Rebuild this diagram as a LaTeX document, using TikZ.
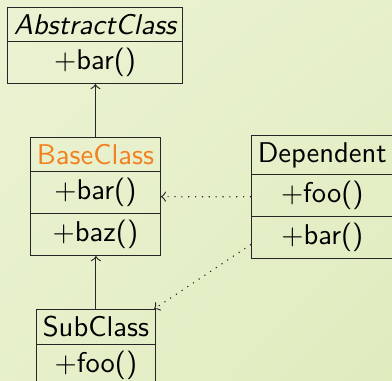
\documentclass[tikz,border=0pt]{standalone}
\usetikzlibrary{shapes.multipart,shadings}

\definecolor{classorange}{RGB}{242,128,30}
\definecolor{slidelight}{RGB}{235,242,210}
\definecolor{slidedark}{RGB}{223,236,190}

\tikzset{
  umlclass/.style={draw=black!85, rectangle split, rectangle split parts=#1,
    font=\sffamily, inner xsep=2.2pt, inner ysep=2.15pt, anchor=north west},
  inherit/.style={->, black!85},
  uses/.style={->, dotted, black!85},
}

\begin{document}
\begin{tikzpicture}[x=0.35pt,y=-0.35pt]
    % slide background
    \shade [upper left=slidelight, upper right=slidelight!60!slidedark,
            lower left=slidelight!60!slidedark, lower right=slidedark]
        (0,0) rectangle (392,381);
    \useasboundingbox (0,0) rectangle (392,381);
    \begin{scope}
        \clip (0,0) rectangle (392,381);
        % classes
        \node [umlclass=2] (abstract) at (7,7)
            {\itshape AbstractClass \nodepart{two} +bar()};
        \node [umlclass=3] (base) at (30,137)
            {\textcolor{classorange}{BaseClass} \nodepart{two} +bar() \nodepart{three} +baz()};
        \node [umlclass=3] (dependent) at (251,135)
            {Dependent \nodepart{two} +foo() \nodepart{three} +bar()};
        \node [umlclass=2] (sub) at (36,309)
            {SubClass \nodepart{two} +foo()};
        % relations
        \draw [inherit] (base.north) -- (base.north |- abstract.south);
        \draw [inherit] (sub.north) -- (sub.north |- base.south);
        \draw [uses] (dependent) -- (base);
        \draw [uses] (dependent) -- (sub);
    \end{scope}
\end{tikzpicture}
\end{document}
